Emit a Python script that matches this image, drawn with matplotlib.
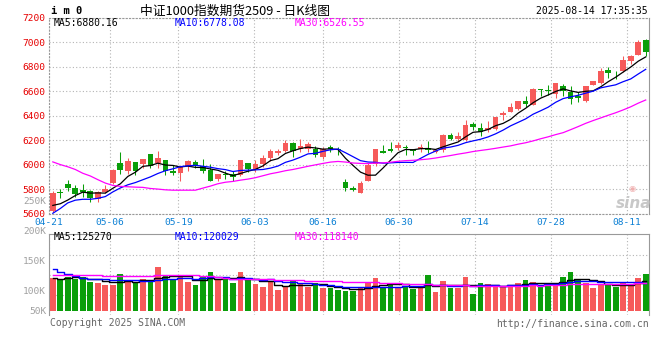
import numpy as np
import pandas as pd
import matplotlib
matplotlib.use("Agg")
import matplotlib.pyplot as plt
from matplotlib import transforms

W, H = 660, 360

# daily bars 04-21 .. 08-14
opens = [5625, 5772, 5845, 5812, 5796, 5787, 5718, 5776, 5851, 6017,
         5948, 6019, 6003, 6086, 6011, 6036, 5948, 5936, 5989, 6022,
         5989, 5959, 5881, 5925, 5925, 5920, 6011, 5962, 6003, 6058,
         6099, 6115, 6175, 6126, 6126, 6126, 6063, 6142, 6131, 5863,
         5814, 5767, 5866, 6003, 6112, 6126, 6140, 6148, 6131, 6126,
         6134, 6104, 6120, 6247, 6214, 6206, 6333, 6301, 6287, 6295,
         6404, 6434, 6458, 6523, 6491, 6621, 6612, 6580, 6645, 6593,
         6558, 6523, 6653, 6667, 6775, 6734, 6762, 6851, 6897, 7019]
highs = [5785, 5801, 5879, 5837, 5845, 5796, 5787, 5837, 5967, 6105,
         6052, 6019, 6050, 6086, 6110, 6036, 6000, 5981, 6036, 6036,
         6044, 6003, 5928, 5953, 5953, 6036, 6011, 6038, 6077, 6126,
         6132, 6200, 6186, 6208, 6186, 6153, 6148, 6159, 6148, 5885,
         5825, 5871, 6016, 6130, 6159, 6186, 6186, 6159, 6131, 6167,
         6195, 6131, 6249, 6260, 6268, 6366, 6347, 6344, 6360, 6393,
         6442, 6507, 6523, 6564, 6631, 6621, 6653, 6667, 6659, 6640,
         6591, 6645, 6686, 6794, 6800, 6767, 6889, 6897, 7019, 7027]
lows = [5615, 5732, 5787, 5741, 5741, 5699, 5699, 5768, 5845, 5928,
        5928, 5914, 5975, 5975, 5975, 5920, 5914, 5870, 5948, 5970,
        5934, 5865, 5870, 5887, 5870, 5909, 5940, 5940, 5984, 6030,
        6082, 6104, 6063, 6104, 6104, 6063, 6049, 6104, 6082, 5786,
        5784, 5767, 5866, 5990, 6099, 6104, 6118, 6082, 6082, 6104,
        6099, 6099, 6107, 6206, 6192, 6198, 6287, 6233, 6268, 6287,
        6369, 6428, 6450, 6474, 6485, 6564, 6566, 6545, 6558, 6496,
        6510, 6510, 6653, 6661, 6707, 6699, 6756, 6821, 6897, 6889]
closes = [5768, 5768, 5812, 5763, 5774, 5727, 5776, 5804, 5961, 5956,
          6028, 5948, 6044, 5994, 6052, 5953, 5931, 5981, 6030, 6000,
          5948, 5870, 5928, 5914, 5898, 6036, 5962, 6003, 6058, 6112,
          6115, 6175, 6112, 6151, 6167, 6082, 6126, 6126, 6123, 5808,
          5792, 5852, 6000, 6125, 6099, 6110, 6159, 6134, 6112, 6142,
          6118, 6120, 6241, 6214, 6238, 6328, 6306, 6268, 6301, 6393,
          6423, 6469, 6523, 6499, 6621, 6607, 6599, 6667, 6604, 6539,
          6545, 6645, 6686, 6767, 6748, 6729, 6856, 6889, 7005, 6924]
# volume in K lots
volumes = [131.7, 127.5, 135.8, 130, 135.8, 123.3, 120.8, 115.8, 115.8, 142.5,
           125, 119.2, 130, 125, 160, 140, 127.5, 135.8, 123.3, 115,
           138.3, 147.5, 127.5, 130.8, 120, 147.5, 127.5, 118.3, 110, 121.7,
           102.5, 112.5, 127.5, 116.7, 110.8, 120.8, 108.3, 108.3, 102.5, 100,
           100, 110, 119.2, 132.5, 110.8, 115, 110.8, 112.5, 105, 109.2,
           140, 97.5, 125, 108.3, 108.3, 135, 92.5, 120, 117.5, 115,
           112.5, 112.5, 120, 127.5, 122.5, 112.5, 120, 120, 135, 147.5,
           127.5, 120.8, 107.5, 117.5, 117.5, 110, 122.5, 112.5, 132.5, 143.3]

# sessions before 04-21 (off chart), estimated from where the MA lines start
prior_close = [6428, 6352, 6423, 6704, 6387, 6676, 6644, 6531, 6196, 6118,
               6038, 6104, 6264, 6202, 6133, 6021, 5981, 6030, 6000, 5438,
               5378, 5352, 5543, 5700, 5727, 5700, 5660, 5580, 5634]
prior_vol = [125, 130, 138, 122, 135, 128, 118, 132, 126, 140,
             124, 130, 121, 127, 133, 119, 126, 131, 125, 200,
             185, 195, 185, 170, 146, 130, 128, 118, 150]

date_labels = ["04-21", "05-06", "05-19", "06-03", "06-16",
               "06-30", "07-14", "07-28", "08-11"]
date_index = [0, 8, 17, 27, 36, 46, 56, 66, 76]

price_ticks = [5600, 5800, 6000, 6200, 6400, 6600, 6800, 7000, 7200]
vol_labels = ["50K", "100K", "150K", "200K", "250K"]
vol_label_at = [50, 100, 175, 250, 325]

RED = "#f65a5a"
GREEN = "#0a9e0a"
GRID = "#b4b4b4"
FRAME = "#999999"
MONO = "DejaVu Sans Mono"
CJK = ["Noto Sans CJK SC", "DejaVu Sans"]
DOT = (0, (1, 2))

fig = plt.figure(figsize=(W / 100, H / 100), dpi=100)


def box(x0, y0, x1, y1):
    return [x0 / W, 1 - y1 / H, (x1 - x0) / W, (y1 - y0) / H]


ax = fig.add_axes(box(49.2, 17.8, 649.3, 213.8))
axv = fig.add_axes(box(49.2, 234.3, 649.3, 315.3), sharex=ax)

x = np.arange(len(closes))
o, hi, lo, c = map(np.array, (opens, highs, lows, closes))
col = np.where(c >= o, RED, GREEN)
# sina's date grid runs a touch wider than the candle pitch
grid_pos = [i * 1.0127 - 0.48 for i in date_index]

# candles
ax.vlines(x, lo, hi, colors=col, lw=0.75, zorder=3)
ax.bar(x, np.maximum(np.abs(c - o), 6), bottom=np.minimum(o, c), width=0.76,
       color=col, linewidth=0, zorder=3)

n = len(prior_close)
s = pd.Series(prior_close + closes)
for win, color in [(5, "black"), (10, "#0000ff"), (30, "#ff00ff")]:
    ax.plot(x, s.rolling(win).mean().iloc[n:].values, color=color, lw=0.9, zorder=4)

ax.set_xlim(-0.48, 79.48)
ax.set_ylim(5600, 7200)
ax.set_yticks(price_ticks)
ax.set_yticklabels([str(t) for t in price_ticks], color="#e60000",
                   fontfamily=MONO, fontsize=6.8)
shift = transforms.ScaledTranslation(0, 2.5 / 100, fig.dpi_scale_trans)
for lbl in ax.get_yticklabels():
    lbl.set_transform(lbl.get_transform() + shift)
ax.set_xticks(grid_pos)
ax.set_xticklabels(date_labels, color="#0a7fd4", fontfamily=MONO, fontsize=6.8)
ax.tick_params(length=0, pad=3)
ax.tick_params(axis="x", pad=3.0)
ax.grid(True, color=GRID, linestyle=DOT, lw=0.8)
ax.set_axisbelow(True)
for side in ["top", "left", "bottom"]:
    ax.spines[side].set_color(FRAME)
    ax.spines[side].set_linestyle(DOT)
ax.spines["right"].set_color(FRAME)

# volume panel
vbar = np.array(volumes)
axv.bar(x, vbar - 50, bottom=50, width=0.76, color=col, linewidth=0, zorder=3)
sv = pd.Series(prior_vol + volumes)
for win, color in [(5, "black"), (10, "#0000ff"), (30, "#ff00ff")]:
    axv.plot(x, sv.rolling(win).mean().iloc[n:].values, color=color, lw=1.0,
             drawstyle="steps-mid", zorder=4)
vlo, vhi = 39.25, 241.75
axv.set_ylim(vlo, vhi)
axv.set_yticks(np.linspace(vlo, vhi, 5)[1:-1])
axv.tick_params(length=0, labelleft=False, labelbottom=False)
axv.grid(True, color=GRID, linestyle=DOT, lw=0.8)
axv.set_axisbelow(True)
for side in ["top", "left", "right"]:
    axv.spines[side].set_color(FRAME)
axv.spines["bottom"].set_visible(False)

lab_tr = transforms.offset_copy(axv.get_yaxis_transform(), fig, x=-3, y=-0.5, units="dots")
for t, v in zip(vol_labels, vol_label_at):
    axv.text(0, v, t, transform=lab_tr, ha="right", va="center", color="#a0a0a0",
             fontfamily=MONO, fontsize=6.8, clip_on=False)

# header texts
def ftext(px, py, s, **kw):
    fig.text(px / W, 1 - py / H, s, va="center", **kw)


ftext(51, 11.5, "i m 0", fontfamily=MONO, fontweight="bold", fontsize=7.5)
ftext(140, 11, "中证1000指数期货2509 - 日K线图", family=CJK, fontsize=9.2)
ftext(648, 11.5, "2025-08-14 17:35:35", ha="right", fontfamily=MONO, fontsize=7)

for py, items in [(23.5, ["MA5:6880.16", "MA10:6778.08", "MA30:6526.55"]),
                  (237.5, ["MA5:125270", "MA10:120029", "MA30:118140"])]:
    for px, s_, color in zip([54, 175, 295], items, ["black", "#0000ff", "#ff00ff"]):
        ftext(px, py, s_, color=color, fontfamily=MONO, fontsize=7)

ftext(50, 323.5, "Copyright 2025 SINA.COM", color="#666666", fontfamily=MONO, fontsize=7)
ftext(648.5, 324, "http://finance.sina.com.cn", ha="right", color="#666666",
      fontfamily=MONO, fontsize=7)
ftext(634, 203, "sina", ha="center", color="#c8c8c8", fontsize=11,
      fontweight="bold", fontstyle="italic")
ftext(632, 189, "\u25c9", ha="center", color="#f0b0b0", fontsize=6)

fig.savefig("out.png", dpi=100)
